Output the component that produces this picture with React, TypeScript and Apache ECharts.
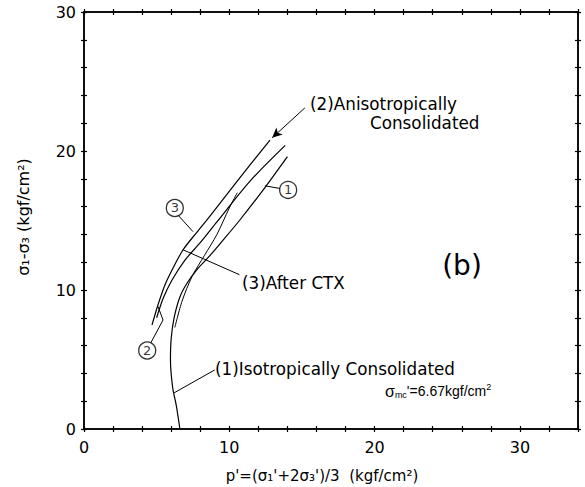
import React, { useEffect, useRef } from "react";
import * as echarts from "echarts";

// ---- data (p', q) in kgf/cm2 ----
const curveIso: number[][] = [
  [6.6, 0], [6.35, 1.7], [6.1, 3.0], [5.95, 5.0], [6.0, 6.5], [6.2, 8.0],
  [6.6, 9.5], [7.1, 10.5], [7.8, 11.5], [8.6, 12.4], [9.5, 13.5],
  [10.7, 15.0], [12.4, 17.3], [14.0, 19.6],
];
const curveAniso: number[][] = [
  [4.68, 7.48], [5.09, 8.92], [5.57, 10.36], [6.06, 11.44], [6.81, 12.88],
  [7.78, 14.17], [8.67, 15.32], [10.6, 17.91], [12.8, 20.79],
];
const curveCTX: number[][] = [
  [5.0, 8.0], [5.45, 9.4], [6.05, 10.7], [6.95, 12.15], [8.0, 13.4],
  [9.15, 14.9], [11.4, 17.8], [13.85, 20.4],
];
const curveBranch: number[][] = [
  [6.25, 7.3], [6.75, 9.2], [7.45, 11.0], [8.3, 12.5], [9.15, 14.0],
  [10.0, 15.9], [10.55, 17.0],
];

// leader lines
const leaderIso: number[][] = [[9.0, 4.25], [6.2, 2.6]];
const leaderCTX: number[][] = [[10.7, 11.1], [6.8, 12.9]];
const leaderAniso: number[][] = [[15.2, 23.1], [12.95, 20.95]];
const leaderC1: number[][] = [[13.5, 17.3], [12.45, 17.5]];
const leaderC3: number[][] = [[6.5, 15.35], [7.5, 14.2]];
const leaderC2: number[][] = [[4.6, 6.2], [5.44, 7.84], [5.1, 8.8]];

// circled markers
const circleMarks: { label: string; pos: number[] }[] = [
  { label: "1", pos: [14.05, 17.2] },
  { label: "3", pos: [6.25, 15.9] },
  { label: "2", pos: [4.35, 5.65] },
];

const xTickLabels = [0, 10, 20, 30];
const yTickLabels = [0, 10, 20, 30];

const FONT = "DejaVu Sans";
const FONT2 = "Liberation Sans";

export default function App() {
  const ref = useRef<HTMLDivElement>(null);
  useEffect(() => {
    if (!ref.current) return;
    const chart = echarts.init(ref.current, null, { renderer: "svg" });

    const baseX = (pos: "bottom" | "top", inside: boolean, labels: boolean) => ({
      type: "value",
      min: 0,
      max: 34,
      interval: 2,
      position: pos,
      axisLine: { show: true, onZero: false, lineStyle: { color: "#000", width: 1.5 } },
      axisTick: { show: true, inside, length: 3, lineStyle: { color: "#000", width: 1.2 } },
      axisLabel: {
        show: labels,
        margin: 10,
        color: "#000",
        fontSize: 16,
        fontFamily: FONT,
        formatter: (v: number) => (xTickLabels.includes(v) ? String(v) : ""),
      },
      splitLine: { show: false },
    });
    const baseY = (pos: "left" | "right", inside: boolean, labels: boolean) => ({
      type: "value",
      min: 0,
      max: 30,
      interval: 2,
      position: pos,
      axisLine: { show: true, onZero: false, lineStyle: { color: "#000", width: 1.5 } },
      axisTick: { show: true, inside, length: 3, lineStyle: { color: "#000", width: 1.2 } },
      axisLabel: {
        show: labels,
        margin: 8,
        color: "#000",
        fontSize: 16,
        fontFamily: FONT,
        formatter: (v: number) => (yTickLabels.includes(v) ? String(v) : ""),
      },
      splitLine: { show: false },
    });

    const lineS = (data: number[][], width = 1.2) => ({
      type: "line",
      data,
      symbol: "none",
      smooth: 0.3,
      lineStyle: { color: "#000", width },
      z: 3,
    });
    const leaderS = (data: number[][]) => ({
      type: "line",
      data,
      symbol: "none",
      lineStyle: { color: "#000", width: 1 },
      z: 3,
    });

    const textStyle = (text: string, x: number, y: number, size = 16.8, align = "left") => ({
      type: "text",
      x,
      y,
      style: {
        text,
        fill: "#000",
        font: `${size}px "${FONT}"`,
        fontSize: size,
        fontFamily: FONT,
        textAlign: align,
        textVerticalAlign: "middle",
        align,
        verticalAlign: "middle",
      },
      z: 10,
    });

    chart.setOption({
      animation: false,
      backgroundColor: "#fff",
      grid: { left: 84, right: 7, top: 12, bottom: 58, containLabel: false },
      xAxis: [
        baseX("bottom", false, true),
        baseX("bottom", true, false),
        baseX("top", false, false),
        baseX("top", true, false),
      ],
      yAxis: [
        baseY("left", false, true),
        baseY("left", true, false),
        baseY("right", false, false),
        baseY("right", true, false),
      ],
      series: [
        lineS(curveIso),
        lineS(curveAniso),
        lineS(curveCTX),
        lineS(curveBranch, 1),
        leaderS(leaderIso),
        leaderS(leaderCTX),
        leaderS(leaderC1),
        leaderS(leaderC3),
        leaderS(leaderC2),
        {
          type: "line",
          data: [],
          symbol: "none",
          markLine: {
            silent: true,
            symbol: ["none", "arrow"],
            symbolSize: [7, 10],
            label: { show: false },
            lineStyle: { color: "#000", width: 1, type: "solid" },
            data: [[{ coord: leaderAniso[0] }, { coord: leaderAniso[1] }]],
          },
        },
        {
          type: "scatter",
          data: circleMarks.map((c) => ({ value: c.pos, name: c.label })),
          symbol: "circle",
          symbolSize: 17,
          itemStyle: { color: "#fff", borderColor: "#000", borderWidth: 1.3 },
          label: {
            show: true,
            position: "inside",
            formatter: (p: any) => p.name,
            color: "#000",
            fontSize: 13,
            fontFamily: FONT,
          },
          z: 5,
        },
      ],
      graphic: [
        textStyle("(2)Anisotropically", 310, 104),
        textStyle("Consolidated", 370, 123),
        textStyle("(3)After CTX", 242, 283),
        textStyle("(1)Isotropically Consolidated", 215, 369),
        textStyle("(b)", 462, 265, 28, "center"),
        {
          type: "text",
          x: 385,
          y: 391,
          style: {
            text: "{s|σ}{sub|mc}{n|'=6.67kgf/cm}{sup|2}",
            fill: "#000",
            fontFamily: FONT2,
            fontSize: 14,
            textVerticalAlign: "middle",
            verticalAlign: "middle",
            rich: {
              s: { fontSize: 16, fontFamily: FONT2, fill: "#000", color: "#000" },
              sub: { fontSize: 9, fontFamily: FONT2, fill: "#000", color: "#000", padding: [8, 0, 0, 0] },
              n: { fontSize: 14, fontFamily: FONT2, fill: "#000", color: "#000" },
              sup: { fontSize: 9, fontFamily: FONT2, fill: "#000", color: "#000", padding: [0, 0, 9, 0] },
            },
          },
          z: 10,
        },
        textStyle("p'=(σ₁'+2σ₃')/3  (kgf/cm²)", 322, 476, 15, "center"),
        {
          type: "text",
          x: 23,
          y: 217,
          rotation: Math.PI / 2,
          style: {
            text: "σ₁-σ₃ (kgf/cm²)",
            fill: "#000",
            font: `16px "${FONT}"`,
            fontSize: 16,
            fontFamily: FONT,
            textAlign: "center",
            textVerticalAlign: "middle",
            align: "center",
            verticalAlign: "middle",
          },
          z: 10,
        },
      ],
    });
    return () => chart.dispose();
  }, []);

  return (
    <div
      ref={ref}
      style={{ position: "fixed", left: 0, top: 0, width: 585, height: 487, background: "#fff" }}
    />
  );
}
